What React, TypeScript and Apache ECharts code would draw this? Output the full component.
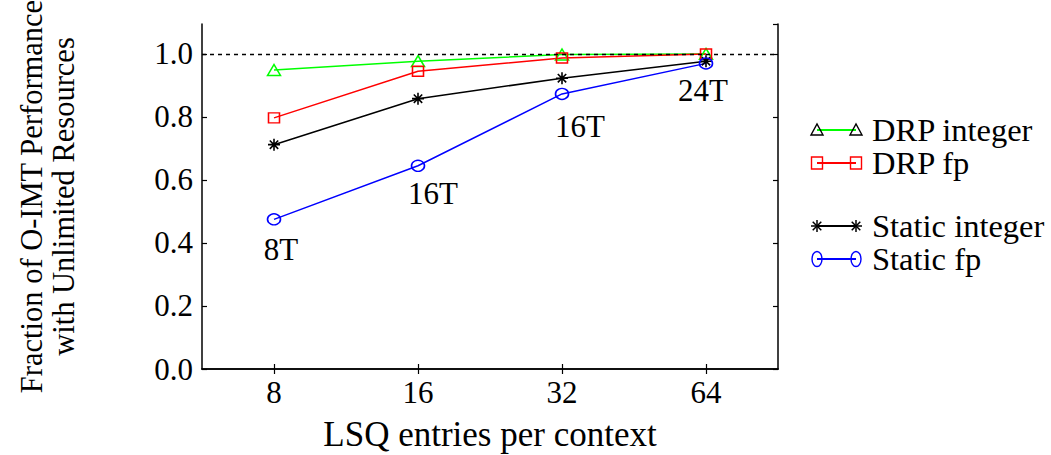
import React, { useEffect, useRef } from 'react';
import * as echarts from 'echarts';

const FONT = 'Liberation Serif';

// ---- data ----
const categories = ['8', '16', '32', '64'];
const drpInteger = [0.949, 0.977, 0.998, 1.0];
const drpFp = [0.797, 0.945, 0.987, 1.0];
const staticInteger = [0.712, 0.858, 0.923, 0.977];
const staticFp = [0.475, 0.645, 0.873, 0.97];
const staticFpLabels = ['8T', '16T', '16T', '24T'];
const staticFpLabelOffsets = [[7, 30], [15, 28], [18, 33], [-3, 27]];
const legendNames = ['DRP integer', 'DRP fp', 'Static integer', 'Static fp'];

const GREEN = '#00ff00';
const RED = '#ff0000';
const BLACK = '#000000';
const BLUE = '#0000ff';

const ASTERISK = 'path://M6,0L6,12M0,6L12,6M1.8,1.8L10.2,10.2M1.8,10.2L10.2,1.8';

function legendGraphic() {
  const rows = [130, 163, 226, 259];
  const x1 = 817;
  const x2 = 856;
  const tx = 872;
  const els: any[] = [];
  const tri = (cx: number, cy: number) => ({
    type: 'polygon',
    shape: { points: [[cx - 6, cy + 5], [cx + 6, cy + 5], [cx, cy - 6]] },
    style: { stroke: BLACK, fill: 'none', lineWidth: 1.4 },
    z: 10,
  });
  const sq = (cx: number, cy: number) => ({
    type: 'rect',
    shape: { x: cx - 5.5, y: cy - 6, width: 11, height: 12 },
    style: { stroke: RED, fill: 'none', lineWidth: 1.4 },
    z: 10,
  });
  const ast = (cx: number, cy: number) => {
    const r = 6;
    const d = 4.3;
    return [
      [0, -r, 0, r],
      [-r, 0, r, 0],
      [-d, -d, d, d],
      [-d, d, d, -d],
    ].map((s) => ({
      type: 'line',
      shape: { x1: cx + s[0], y1: cy + s[1], x2: cx + s[2], y2: cy + s[3] },
      style: { stroke: BLACK, lineWidth: 1.5 },
      z: 10,
    }));
  };
  const ell = (cx: number, cy: number) => ({
    type: 'ellipse',
    shape: { cx, cy, rx: 5, ry: 7.5 },
    style: { stroke: BLUE, fill: 'none', lineWidth: 1.4 },
    z: 10,
  });
  const colors = [GREEN, RED, BLACK, BLUE];
  rows.forEach((y, i) => {
    els.push({
      type: 'line',
      shape: { x1, y1: y, x2, y2: y },
      style: { stroke: colors[i], lineWidth: 2 },
      z: 9,
    });
    if (i === 0) els.push(tri(x1, y), tri(x2, y));
    if (i === 1) els.push(sq(x1, y), sq(x2, y));
    if (i === 2) els.push(...ast(x1, y), ...ast(x2, y));
    if (i === 3) els.push(ell(x1, y), ell(x2, y));
    els.push({
      type: 'text',
      x: tx,
      y,
      style: {
        text: legendNames[i],
        fontSize: 32.5,
        fontFamily: FONT,
        fill: BLACK,
        verticalAlign: 'middle',
        align: 'left',
      },
      z: 10,
    });
  });
  return els;
}

export default function App() {
  const ref = useRef<HTMLDivElement>(null);
  useEffect(() => {
    document.body.style.margin = '0';
    const chart = echarts.init(ref.current!, null, { renderer: 'svg' });
    const textBase = { fontSize: 31, fontFamily: FONT, color: BLACK };
    const catAxis = (pos: 'bottom' | 'top') => ({
      type: 'category',
      data: categories,
      position: pos,
      boundaryGap: true,
      axisLine: { show: true, lineStyle: { color: BLACK, width: 1.5 } },
      axisTick: { show: true, inside: true, alignWithLabel: true, length: 5, lineStyle: { color: BLACK, width: 1.2 } },
      axisLabel: pos === 'bottom' ? { ...textBase, margin: 8 } : { show: false },
      splitLine: { show: false },
      ...(pos === 'bottom'
        ? {
            name: 'LSQ entries per context',
            nameLocation: 'middle',
            nameGap: 48,
            nameTextStyle: { ...textBase, fontSize: 35 },
          }
        : {}),
    });
    const valAxis = (pos: 'left' | 'right') => ({
      type: 'value',
      position: pos,
      min: 0,
      max: 1.095,
      interval: 0.2,
      axisLine: { show: true, lineStyle: { color: BLACK, width: 1.5 } },
      axisTick: { show: true, inside: true, length: 5, lineStyle: { color: BLACK, width: 1.2 } },
      axisLabel:
        pos === 'left'
          ? { ...textBase, margin: 9, showMaxLabel: false, formatter: (v: number) => v.toFixed(1) }
          : { show: false },
      splitLine: { show: false },
      ...(pos === 'left'
        ? {
            name: 'Fraction of O-IMT Performance\nwith Unlimited Resources',
            nameLocation: 'middle',
            nameRotate: 90,
            nameGap: 122,
            nameTextStyle: { ...textBase, fontSize: 30.5, lineHeight: 32, align: 'center' },
          }
        : {}),
    });
    const option: any = {
      animation: false,
      backgroundColor: '#ffffff',
      textStyle: { fontFamily: FONT },
      grid: {
        left: 202,
        top: 24,
        width: 576,
        height: 345,
        containLabel: false,
        outerBoundsMode: 'none',
      },
      xAxis: [catAxis('bottom'), catAxis('top')],
      yAxis: [valAxis('left'), valAxis('right')],
      series: [
        {
          name: legendNames[0],
          type: 'line',
          data: drpInteger,
          symbol: 'triangle',
          symbolSize: [13, 11],
          lineStyle: { color: GREEN, width: 1.5 },
          itemStyle: { color: 'rgba(0,0,0,0)', borderColor: GREEN, borderWidth: 1.5 },
          markLine: {
            silent: true,
            symbol: ['none', 'none'],
            label: { show: false },
            lineStyle: { color: BLACK, type: [4, 4], width: 1.4 },
            data: [{ yAxis: 1 }],
          },
        },
        {
          name: legendNames[1],
          type: 'line',
          data: drpFp,
          symbol: 'rect',
          symbolSize: [11, 10],
          lineStyle: { color: RED, width: 1.5 },
          itemStyle: { color: 'rgba(0,0,0,0)', borderColor: RED, borderWidth: 1.5 },
        },
        {
          name: legendNames[2],
          type: 'line',
          data: staticInteger,
          symbol: ASTERISK,
          symbolSize: 12,
          lineStyle: { color: BLACK, width: 1.5 },
          itemStyle: { color: 'rgba(0,0,0,0)', borderColor: BLACK, borderWidth: 1.6 },
        },
        {
          name: legendNames[3],
          type: 'line',
          data: staticFp.map((v, i) => ({
            value: v,
            label: {
              show: true,
              formatter: staticFpLabels[i],
              position: 'inside',
              offset: staticFpLabelOffsets[i],
              ...textBase,
            },
          })),
          symbol: 'circle',
          symbolSize: [13, 11],
          lineStyle: { color: BLUE, width: 1.5 },
          itemStyle: { color: 'rgba(0,0,0,0)', borderColor: BLUE, borderWidth: 1.5 },
        },
      ],
      graphic: legendGraphic(),
    };
    chart.setOption(option);
    return () => chart.dispose();
  }, []);
  return <div ref={ref} style={{ width: 1051, height: 455 }} />;
}
